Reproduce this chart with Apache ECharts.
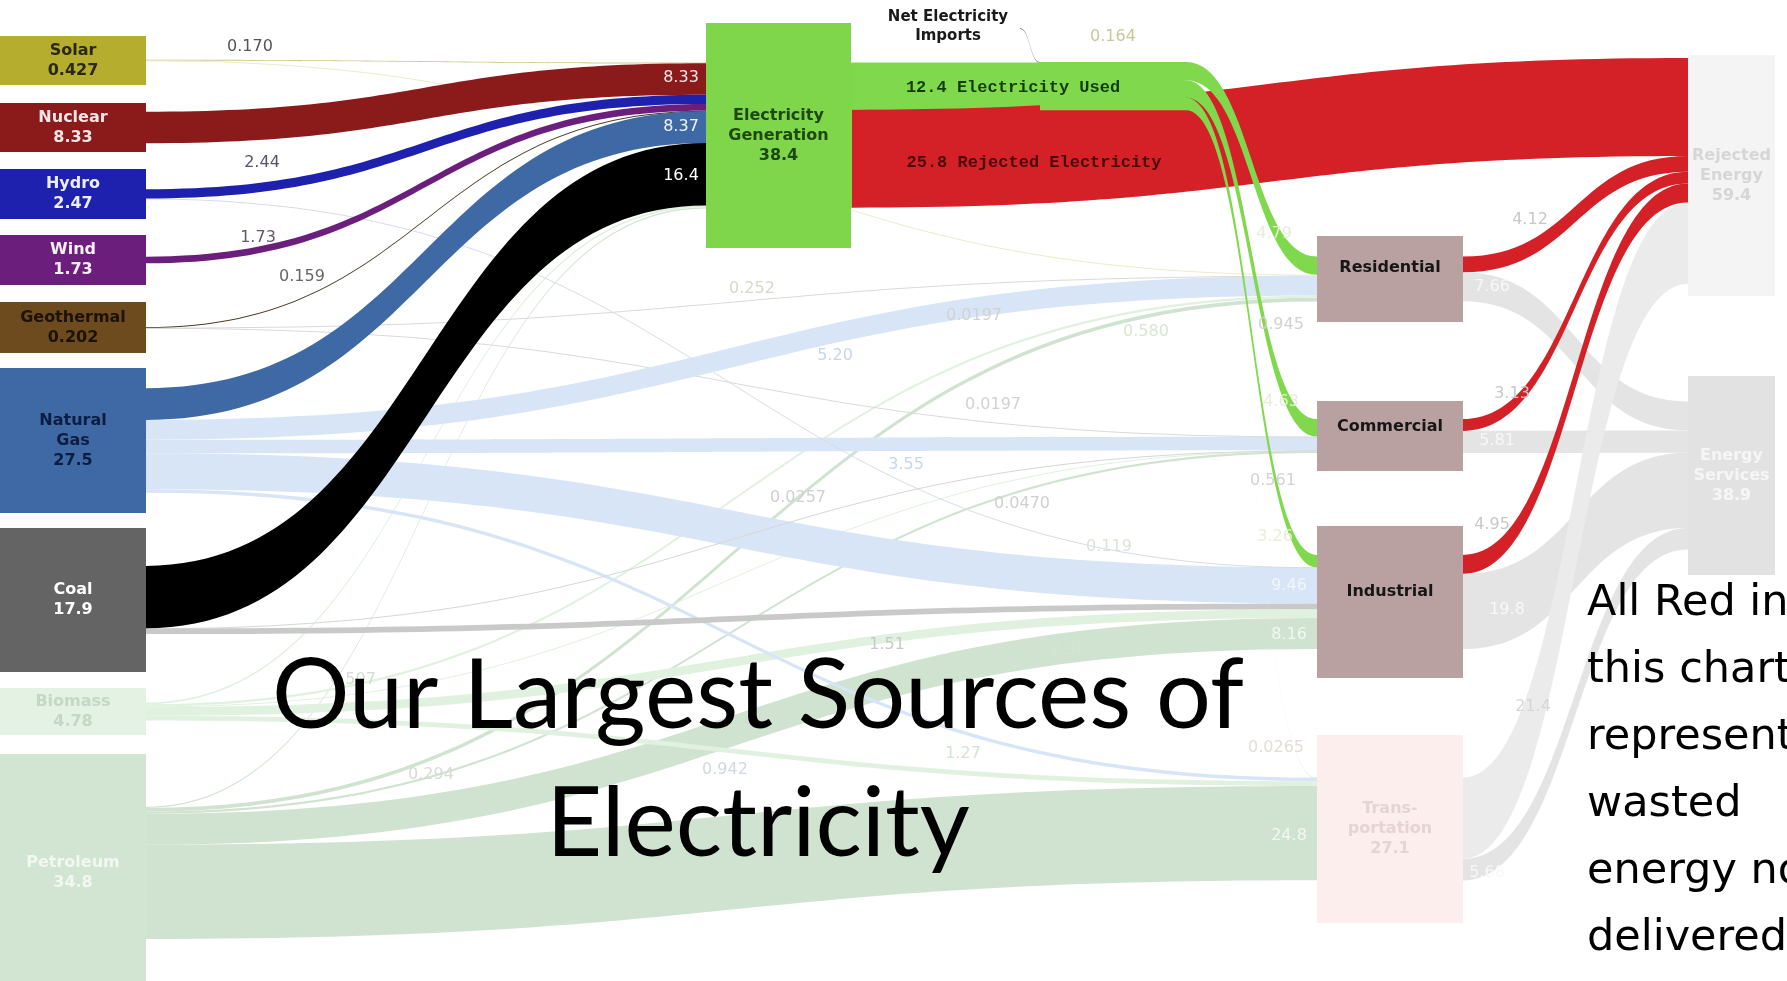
<!DOCTYPE html>
<html>
<head>
<meta charset="utf-8">
<script src="https://cdn.jsdelivr.net/npm/echarts@6/dist/echarts.min.js"></script>
<style>
html,body{margin:0;padding:0;background:#fff;overflow:hidden;}
#main{width:1787px;height:981px;}
</style>
</head>
<body>
<div id="main"></div>
<script>
// ================= DATA =================
const nodeNames = [
  'Net Electricity Imports', 'Solar', 'Nuclear', 'Hydro', 'Wind', 'Geothermal',
  'Natural Gas', 'Coal', 'Biomass', 'Petroleum',
  'Electricity Generation', 'Electricity Used',
  'Residential', 'Commercial', 'Industrial', 'Transportation',
  'Rejected Energy', 'Energy Services'
];
const nodeTotals = [
  0.164, 0.427, 8.33, 2.47, 1.73, 0.202,
  27.5, 17.9, 4.78, 34.8,
  38.4, 12.4,
  null, null, null, 27.1,
  59.4, 38.9
];
// flows: [from, to, value]  (listed in drawing order: faded flows first)
const flows = [
  ['Residential', 'Energy Services', 7.66],
  ['Commercial', 'Energy Services', 5.81],
  ['Industrial', 'Energy Services', 19.8],
  ['Transportation', 'Energy Services', 5.68],
  ['Transportation', 'Rejected Energy', 21.4],
  ['Petroleum', 'Electricity Generation', 0.294],
  ['Petroleum', 'Residential', 0.945],
  ['Petroleum', 'Commercial', 0.561],
  ['Petroleum', 'Industrial', 8.16],
  ['Petroleum', 'Transportation', 24.8],
  ['Biomass', 'Electricity Generation', 0.507],
  ['Biomass', 'Residential', 0.580],
  ['Biomass', 'Commercial', 0.119],
  ['Biomass', 'Industrial', 2.30],
  ['Biomass', 'Transportation', 1.27],
  ['Natural Gas', 'Commercial', 3.55],
  ['Natural Gas', 'Industrial', 9.46],
  ['Natural Gas', 'Transportation', 0.942],
  ['Coal', 'Commercial', 0.0470],
  ['Coal', 'Industrial', 1.51],
  ['Hydro', 'Industrial', 0.0257],
  ['Geothermal', 'Commercial', 0.0197],
  ['Electricity Used', 'Transportation', 0.0265],
  ['Net Electricity Imports', 'Electricity Used', 0.164],
  ['Solar', 'Electricity Generation', 0.170],
  ['Solar', 'Residential', 0.252],
  ['Geothermal', 'Electricity Generation', 0.159],
  ['Geothermal', 'Residential', 0.0197],
  ['Natural Gas', 'Electricity Generation', 8.37],
  ['Natural Gas', 'Residential', 5.20],
  ['Nuclear', 'Electricity Generation', 8.33],
  ['Hydro', 'Electricity Generation', 2.44],
  ['Wind', 'Electricity Generation', 1.73],
  ['Coal', 'Electricity Generation', 16.4],
  ['Electricity Generation', 'Electricity Used', 12.4],
  ['Electricity Generation', 'Rejected Energy', 25.8],
  ['Residential', 'Rejected Energy', 4.12],
  ['Commercial', 'Rejected Energy', 3.13],
  ['Industrial', 'Rejected Energy', 4.95],
  ['Electricity Used', 'Residential', 4.79],
  ['Electricity Used', 'Commercial', 4.63],
  ['Electricity Used', 'Industrial', 3.26]
];
const titleLines = ['Our Largest Sources of', 'Electricity'];
const noteLines = ['All Red in', 'this chart', 'represents', 'wasted', 'energy not', 'delivered'];

// ================= LAYOUT / STYLE =================
const W = 1787, KY = 3.8, GAP = 10, NODE_W = 146;
const boxes = {
  'Net Electricity Imports': { x: 874, rectY: 28, fill: 'rgba(0,0,0,0)', text: '#1a1a1a', labelName: 'Net Electricity\nImports', labelAt: [948, 27] },
  'Solar':       { x: 0, top: 36,  w: 146, h: 49,  fill: '#b5ad2e', text: '#2a2810' },
  'Nuclear':     { x: 0, top: 103, w: 146, h: 49,  fill: '#8b1b1b', text: '#f4e6e6' },
  'Hydro':       { x: 0, top: 169, w: 146, h: 50,  fill: '#1d21ae', text: '#eceeff' },
  'Wind':        { x: 0, top: 235, w: 146, h: 50,  fill: '#6c1e7c', text: '#f6eef8' },
  'Geothermal':  { x: 0, top: 302, w: 146, h: 51,  fill: '#6e4b1f', text: '#1c1206' },
  'Natural Gas': { x: 0, top: 368, w: 146, h: 145, fill: '#3e69a4', text: '#0d1d42' },
  'Coal':        { x: 0, top: 528, w: 146, h: 144, fill: '#646464', text: '#ffffff' },
  'Biomass':     { x: 0, top: 688, w: 146, h: 47,  fill: '#e3f2e3', text: '#c4d8c4' },
  'Petroleum':   { x: 0, top: 754, w: 146, h: 238, fill: '#d2e4d2', text: '#f1f7f1' },
  'Electricity Generation': { x: 706, top: 23, w: 145, h: 225, fill: '#7fd64b', text: '#1d4810' },
  'Electricity Used': { x: 1040, rectY: 62, fill: '#80d84c', text: '#123d0b',
                        labelFrom: 'Electricity Generation', labelSuffix: ' Electricity Used', labelAt: [1013, 88] },
  'Residential':    { x: 1317, top: 236, w: 146, h: 86,  fill: '#b9a1a1', text: '#161616', showValue: false, textY: 268 },
  'Commercial':     { x: 1317, top: 401, w: 146, h: 70,  fill: '#b9a1a1', text: '#161616', showValue: false, textY: 427 },
  'Industrial':     { x: 1317, top: 526, w: 146, h: 152, fill: '#b9a1a1', text: '#161616', showValue: false, textY: 592 },
  'Transportation': { x: 1317, top: 735, w: 146, h: 188, fill: '#fdeeee', text: '#e4d4d4', labelName: 'Trans-\nportation' },
  'Rejected Energy': { x: 1688, top: 55,  w: 87, h: 241, rectY: 58, fill: '#f4f4f4', text: '#d6d6d6' },
  'Energy Services': { x: 1688, top: 376, w: 87, h: 199, fill: '#e2e2e2', text: '#f6f6f6' }
};
const GAS_F = '#d7e5f6', PET_F = '#d0e3d0', BIO_F = '#e0f1df', SERV_F = '#e4e4e4', RED = '#d42027', GREEN = '#80d84c';
const flowColor = {
  'Residential>Energy Services': SERV_F, 'Commercial>Energy Services': SERV_F,
  'Industrial>Energy Services': SERV_F, 'Transportation>Energy Services': SERV_F,
  'Transportation>Rejected Energy': '#ebebeb',
  'Petroleum>Electricity Generation': PET_F, 'Petroleum>Residential': PET_F, 'Petroleum>Commercial': PET_F,
  'Petroleum>Industrial': PET_F, 'Petroleum>Transportation': PET_F,
  'Biomass>Electricity Generation': BIO_F, 'Biomass>Residential': BIO_F, 'Biomass>Commercial': BIO_F,
  'Biomass>Industrial': BIO_F, 'Biomass>Transportation': BIO_F,
  'Natural Gas>Commercial': GAS_F, 'Natural Gas>Industrial': GAS_F, 'Natural Gas>Transportation': GAS_F,
  'Natural Gas>Residential': GAS_F,
  'Coal>Commercial': '#d6d6d6', 'Coal>Industrial': '#c9c9c9',
  'Hydro>Industrial': '#d6dbe8', 'Geothermal>Commercial': '#d9d9d9', 'Geothermal>Residential': '#d9d9d9',
  'Electricity Used>Transportation': '#e2f2d8',
  'Net Electricity Imports>Electricity Used': '#8a8a7a',
  'Solar>Electricity Generation': '#cdc98c', 'Solar>Residential': '#ecebc8',
  'Geothermal>Electricity Generation': '#4a3a25',
  'Natural Gas>Electricity Generation': '#3e69a4',
  'Nuclear>Electricity Generation': '#8b1b1b',
  'Hydro>Electricity Generation': '#1d21ae',
  'Wind>Electricity Generation': '#6c1e7c',
  'Coal>Electricity Generation': '#000000',
  'Electricity Generation>Electricity Used': GREEN,
  'Electricity Generation>Rejected Energy': RED,
  'Residential>Rejected Energy': RED, 'Commercial>Rejected Energy': RED, 'Industrial>Rejected Energy': RED,
  'Electricity Used>Residential': GREEN, 'Electricity Used>Commercial': GREEN, 'Electricity Used>Industrial': GREEN
};
// label anchor positions (px) and colours for flow values
const flowLabels = {
  'Solar>Electricity Generation': { at: [250, 47], color: '#555555' },
  'Hydro>Electricity Generation': { at: [262, 163], color: '#55556a' },
  'Wind>Electricity Generation': { at: [258, 238], color: '#65556a' },
  'Geothermal>Electricity Generation': { at: [302, 277], color: '#666666' },
  'Nuclear>Electricity Generation': { at: [681, 78], color: '#f2e8e8' },
  'Natural Gas>Electricity Generation': { at: [681, 127], color: '#f0f4fa' },
  'Coal>Electricity Generation': { at: [681, 176], color: '#ffffff' },
  'Solar>Residential': { at: [752, 289], color: '#d8d8ca' },
  'Natural Gas>Residential': { at: [835, 356], color: '#c6d6ec' },
  'Geothermal>Residential': { at: [974, 316], color: '#d2d2d2' },
  'Geothermal>Commercial': { at: [993, 405], color: '#d2d2d2' },
  'Biomass>Residential': { at: [1146, 332], color: '#d8e6d4' },
  'Natural Gas>Commercial': { at: [906, 465], color: '#c6d6ec' },
  'Hydro>Industrial': { at: [798, 498], color: '#d0d0d0' },
  'Coal>Commercial': { at: [1022, 504], color: '#d0d0d0' },
  'Biomass>Commercial': { at: [1109, 547], color: '#d8e6d4' },
  'Coal>Industrial': { at: [887, 645], color: '#c8c8c8' },
  'Biomass>Industrial': { at: [1068, 650], color: '#d4e4d4' },
  'Biomass>Electricity Generation': { at: [353, 680], color: '#d4dcd4' },
  'Petroleum>Electricity Generation': { at: [431, 775], color: '#d4dcd4' },
  'Natural Gas>Transportation': { at: [725, 770], color: '#d0d8e4' },
  'Biomass>Transportation': { at: [963, 754], color: '#d4e4d4' },
  'Electricity Used>Transportation': { at: [1276, 748], color: '#e4dcd6' },
  'Petroleum>Residential': { at: [1281, 325], color: '#d2d2d2' },
  'Petroleum>Commercial': { at: [1273, 481], color: '#d2d2d2' },
  'Natural Gas>Industrial': { at: [1289, 586], color: '#f2f6fb' },
  'Petroleum>Industrial': { at: [1289, 635], color: '#f2f7f2' },
  'Petroleum>Transportation': { at: [1289, 836], color: '#f2f7f2' },
  'Electricity Used>Residential': { at: [1274, 234], color: '#e6eed8' },
  'Electricity Used>Commercial': { at: [1281, 402], color: '#e6eed8' },
  'Electricity Used>Industrial': { at: [1275, 537], color: '#e6eed8' },
  'Residential>Rejected Energy': { at: [1530, 220], color: '#c8c8c8' },
  'Commercial>Rejected Energy': { at: [1512, 394], color: '#c8c8c8' },
  'Industrial>Rejected Energy': { at: [1492, 525], color: '#c8c8c8' },
  'Residential>Energy Services': { at: [1492, 287], color: '#f8f8f8' },
  'Commercial>Energy Services': { at: [1497, 441], color: '#f8f8f8' },
  'Industrial>Energy Services': { at: [1507, 610], color: '#f8f8f8' },
  'Transportation>Rejected Energy': { at: [1533, 707], color: '#d6d6d6' },
  'Transportation>Energy Services': { at: [1487, 873], color: '#f8f8f8' },
  'Net Electricity Imports>Electricity Used': { at: [1113, 37], color: '#c8c89a' },
  'Electricity Generation>Rejected Energy': { at: [1034, 163], color: '#4a0909', suffix: ' Rejected Electricity', font: 'Liberation Mono', weight: 'bold', size: 17 }
};

// ================= BUILD =================
const inSum = {}, outSum = {};
flows.forEach(function (f) {
  outSum[f[0]] = (outSum[f[0]] || 0) + f[2];
  inSum[f[1]] = (inSum[f[1]] || 0) + f[2];
});
const nodeVal = {};
nodeNames.forEach(function (n, i) {
  nodeVal[n] = Math.max(inSum[n] || 0, outSum[n] || 0, nodeTotals[i] || 0);
});
const firstCol = nodeNames.filter(function (n) { return !inSum[n]; });
const H = KY * firstCol.reduce(function (a, n) { return a + nodeVal[n]; }, 0) + (firstCol.length - 1) * GAP;
const fmt = function (v) { return v.toPrecision(3); };
const flowValue = function (a, b) {
  const f = flows.filter(function (x) { return x[0] === a && x[1] === b; })[0];
  return f ? f[2] : 0;
};

function nodeGeom(n) {
  const b = boxes[n];
  const dy = nodeVal[n] * KY;
  const y = b.rectY != null ? b.rectY : b.top + b.h / 2 - dy / 2;
  return { x: b.x, y: y, dy: dy };
}

const LINE_H = 20;
const nodes = nodeNames.map(function (n, i) {
  const b = boxes[n], g = nodeGeom(n);
  // node rectangles narrower boxes than the node width are painted only by their label box
  const rectFill = (b.w && b.w < NODE_W - 2) ? 'rgba(0,0,0,0)' : b.fill;
  const item = {
    name: n,
    localX: g.x / W,
    localY: g.y / H,
    itemStyle: { color: rectFill, borderWidth: 0 }
  };
  if (nodeTotals[i] != null) item.value = nodeTotals[i];
  const cx = b.x + NODE_W / 2, cy = g.y + g.dy / 2;
  if (b.h) {
    const txt = (b.labelName || n.replace(' ', '\n')) + (b.showValue === false ? '' : '\n' + fmt(nodeTotals[i]));
    const nLines = txt.split('\n').length;
    const textY = b.textY != null ? b.textY : b.top + b.h / 2;
    const padTop = textY - nLines * LINE_H / 2 - b.top;
    item.label = {
      show: true, position: 'inside', formatter: txt,
      width: b.w, height: b.h - padTop, padding: [padTop, 0, 0, 0], backgroundColor: b.fill,
      color: b.text, fontFamily: 'DejaVu Sans', fontWeight: 'bold', fontSize: 16, lineHeight: LINE_H,
      align: 'center', verticalAlign: 'top',
      offset: [b.x + b.w / 2 - cx, b.top - cy]
    };
  } else if (b.labelFrom) {
    item.label = {
      show: true, position: 'inside',
      formatter: fmt(flowValue(b.labelFrom, n)) + b.labelSuffix,
      color: b.text, fontFamily: 'Liberation Mono', fontWeight: 'bold', fontSize: 17,
      align: 'center', verticalAlign: 'middle',
      offset: [b.labelAt[0] - cx, b.labelAt[1] - cy]
    };
  } else if (b.labelAt) {
    item.label = {
      show: true, position: 'inside', formatter: b.labelName,
      color: b.text, fontFamily: 'DejaVu Sans', fontWeight: 'bold', fontSize: 15, lineHeight: 19,
      align: 'center', verticalAlign: 'middle',
      offset: [b.labelAt[0] - cx, b.labelAt[1] - cy]
    };
  } else {
    item.label = { show: false };
  }
  return item;
});

function buildLinks(offsets) {
  return flows.map(function (f, i) {
    const key = f[0] + '>' + f[1];
    const link = {
      source: f[0], target: f[1], value: f[2],
      lineStyle: { color: flowColor[key] || '#dddddd', opacity: 1, curveness: 0.5 }
    };
    const lab = flowLabels[key];
    if (lab) {
      link.edgeLabel = {
        show: true,
        formatter: fmt(f[2]) + (lab.suffix || ''),
        color: lab.color,
        fontSize: lab.size || 16,
        fontFamily: lab.font || 'DejaVu Sans',
        fontWeight: lab.weight || 'normal',
        offset: offsets && offsets[i] ? offsets[i] : [0, 0]
      };
    }
    return link;
  });
}

function buildOption(offsets) {
  return {
    backgroundColor: '#ffffff',
    animation: false,
    title: [
      {
        text: titleLines.join('\n'), left: 758, top: 633, textAlign: 'center', padding: 0,
        textStyle: { fontFamily: 'Lato', fontSize: 97, fontWeight: 'normal', lineHeight: 128, color: '#000000' }
      },
      {
        text: noteLines.join('\n'), left: 1587, top: 570, padding: 0,
        textStyle: { fontFamily: 'DejaVu Sans', fontSize: 43, fontWeight: 'normal', lineHeight: 67, color: '#000000' }
      }
    ],
    series: [{
      type: 'sankey',
      left: 0, top: 0, width: W, height: H,
      nodeWidth: NODE_W, nodeGap: GAP, layoutIterations: 0, nodeAlign: 'justify',
      draggable: false,
      emphasis: { disabled: true },
      lineStyle: { opacity: 1, curveness: 0.5 },
      label: { show: true, position: 'inside' },
      edgeLabel: { show: false },
      data: nodes,
      links: buildLinks(offsets)
    }]
  };
}

const chart = echarts.init(document.getElementById('main'), null, { renderer: 'canvas', width: 1787, height: 981 });
chart.setOption(buildOption(null));

// place flow value labels at their anchor positions
try {
  const sm = chart.getModel().getSeriesByIndex(0);
  const graph = sm.getGraph();
  const offsets = {};
  graph.eachEdge(function (edge) {
    const i = edge.dataIndex;
    const f = flows[i];
    const lab = flowLabels[f[0] + '>' + f[1]];
    if (!lab) return;
    const el = edge.getLayout();
    const g1 = nodeGeom(f[0]), g2 = nodeGeom(f[1]);
    const x1 = g1.x + NODE_W, y1 = g1.y + el.sy;
    const x2 = g2.x, y2 = g2.y + el.ty;
    const ext = Math.max(1, el.dy);
    const cx = (x1 + x2) / 2;
    const cy = (Math.min(y1, y2) + Math.max(y1, y2) + ext) / 2;
    offsets[i] = [lab.at[0] - cx, lab.at[1] - cy];
  });
  chart.setOption(buildOption(offsets));
} catch (e) {
  console.log('label offset step failed: ' + e);
}
</script>
</body>
</html>
